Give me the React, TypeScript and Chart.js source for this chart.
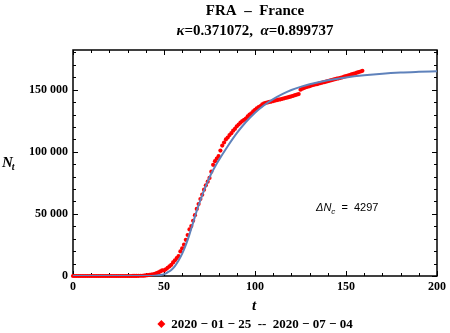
import React, { useEffect, useRef } from "react";
import { Chart, registerables } from "chart.js";

Chart.register(...registerables);

const SERIF = '"Liberation Serif", "Times New Roman", serif';
const SANS = '"Liberation Sans", Arial, sans-serif';

// Observed cumulative cases, one per day starting 2020-01-25 (t = 0)
const observedCases: number[] = [
  3, 3, 3, 3, 4, 5, 5, 6, 6, 6, 6, 6, 6,
  11, 11, 11, 11, 12, 12, 12, 12, 12, 12, 12, 12, 12, 12, 12, 12, 12, 12,
  14, 18, 38, 57, 100, 130, 191, 212, 285, 423, 653, 949, 1126, 1412, 1784, 2281, 2876, 3661, 4469,
  4500, 5400, 6600, 7700, 9000, 10900, 12600, 14400, 16000, 19800,
  22300, 25200, 29100, 33000, 37500, 40200, 44500, 49000, 54000, 58000,
  62000, 65500, 69500, 73000, 76000, 79000, 84000, 89500, 92500, 94500,
  96500, 101000, 105000, 107500, 110000, 111500, 113500, 115000, 117000, 118500,
  120500, 122000, 123500, 124800, 125800, 126800, 128500, 130000, 131000, 132500,
  133800, 135000, 136000, 136800, 138300, 139000, 139500, 139800, 140200, 140500,
  140900, 141300, 141600, 142000, 142300, 142700, 143100, 143500, 143800, 144200,
  144700, 145100, 145600, 146100, 146500, 150000, 150800, 151400, 152000, 152500,
  152900, 153400, 153800, 154200, 154500, 155000, 155400, 155800, 156100, 156500,
  156900, 157300, 157700, 158100, 158500, 158900, 159200, 159600, 160000, 160500,
  160900, 161300, 161800, 162300, 162700, 163200, 163700, 164200, 164700, 165200,
];

// Fitted model curve
const fitT: number[] = [0, 10, 20, 30, 40, 45, 48, 50, 52, 54, 56, 58, 60, 62, 64, 66, 68, 70, 72, 74, 76, 78, 80, 85, 90, 95, 100, 105, 110, 115, 120, 125, 130, 140, 150, 160, 170, 180, 190, 200];
const fitN: number[] = [0, 0, 0, 10, 80, 300, 800, 1500, 3000, 4900, 8000, 12500, 18000, 25000, 33500, 43000, 52500, 61000, 69000, 76000, 82500, 88000, 93000, 104500, 115000, 124000, 131500, 137500, 142500, 146500, 149800, 152300, 154400, 157600, 159900, 161600, 162900, 163800, 164400, 164900];

const xTicks: number[] = [0, 50, 100, 150, 200];
const xTickLabels: string[] = ["0", "50", "100", "150", "200"];
const yTicks: number[] = [0, 50000, 100000, 150000];
const yTickLabels: string[] = ["0", "50 000", "100 000", "150 000"];

const titleLine1 = "FRA  \u2013  France";
const kappaText = "0.371072";
const alphaText = "0.899737";
const legendText = "2020 \u2212 01 \u2212 25  --  2020 \u2212 07 \u2212 04";
const deltaNcValue = "4297";

const X_MAX = 200;
const Y_MAX = 182000;

const framePlugin = {
  id: "frameTicks",
  beforeDatasetsDraw(chart: any) {
    const { ctx, chartArea: a, scales } = chart;
    const sx = scales.x;
    const sy = scales.y;
    ctx.save();
    ctx.strokeStyle = "#000";
    ctx.lineWidth = 1.5;
    ctx.strokeRect(a.left, a.top, a.right - a.left, a.bottom - a.top);
    ctx.lineWidth = 1;
    for (let v = 0; v <= X_MAX; v += 10) {
      const len = xTicks.includes(v) ? 5 : 3;
      const px = Math.round(sx.getPixelForValue(v)) + 0.5;
      ctx.beginPath();
      ctx.moveTo(px, a.bottom);
      ctx.lineTo(px, a.bottom - len);
      ctx.moveTo(px, a.top);
      ctx.lineTo(px, a.top + len);
      ctx.stroke();
    }
    for (let v = 0; v <= Y_MAX; v += 10000) {
      const len = yTicks.includes(v) ? 5 : 3;
      const py = Math.round(sy.getPixelForValue(v)) + 0.5;
      ctx.beginPath();
      ctx.moveTo(a.left, py);
      ctx.lineTo(a.left + len, py);
      ctx.moveTo(a.right, py);
      ctx.lineTo(a.right - len, py);
      ctx.stroke();
    }
    ctx.restore();
  },
};

const textPlugin = {
  id: "texts",
  afterDraw(chart: any) {
    const { ctx, chartArea: a } = chart;
    const cx = (a.left + a.right) / 2;
    ctx.save();
    ctx.fillStyle = "#000";
    // Title line 1
    ctx.font = `bold 15px ${SERIF}`;
    ctx.textAlign = "center";
    ctx.textBaseline = "alphabetic";
    ctx.fillText(titleLine1, cx, 15);
    // Title line 2 with italic greek letters
    const parts = [
      { t: "\u03BA", it: true },
      { t: "=" + kappaText + ",  ", it: false },
      { t: "\u03B1", it: true },
      { t: "=" + alphaText, it: false },
    ];
    let total = 0;
    parts.forEach((p) => {
      ctx.font = `${p.it ? "italic " : ""}bold 15px ${SERIF}`;
      total += ctx.measureText(p.t).width;
    });
    let x = cx - total / 2;
    ctx.textAlign = "left";
    parts.forEach((p) => {
      ctx.font = `${p.it ? "italic " : ""}bold 15px ${SERIF}`;
      ctx.fillText(p.t, x, 35);
      x += ctx.measureText(p.t).width;
    });
    // Y axis title N_t
    ctx.font = `italic bold 15px ${SERIF}`;
    ctx.fillText("N", 2, 167);
    const nw = ctx.measureText("N").width;
    ctx.font = `italic bold 10px ${SERIF}`;
    ctx.fillText("t", 2 + nw - 1, 170);
    // X axis title t
    ctx.font = `italic bold 15px ${SERIF}`;
    ctx.textAlign = "center";
    ctx.fillText("t", cx - 1, 310);
    // Legend
    ctx.font = `bold 13px ${SERIF}`;
    ctx.textAlign = "left";
    const lw = ctx.measureText(legendText).width;
    const lx = cx - (lw + 14) / 2;
    ctx.fillStyle = "#ff0000";
    ctx.beginPath();
    const dcx = lx + 4;
    const dcy = 324;
    ctx.moveTo(dcx, dcy - 4);
    ctx.lineTo(dcx + 4, dcy);
    ctx.lineTo(dcx, dcy + 4);
    ctx.lineTo(dcx - 4, dcy);
    ctx.closePath();
    ctx.fill();
    ctx.fillStyle = "#000";
    ctx.fillText(legendText, lx + 14, 328);
    // Annotation
    let ax = 316;
    const ay = 211;
    ctx.font = `italic 11px ${SANS}`;
    ctx.fillText("\u0394N", ax, ay);
    ax += ctx.measureText("\u0394N").width;
    ctx.font = `italic 8px ${SANS}`;
    ctx.fillText("c", ax, ay + 3);
    ax += ctx.measureText("c").width;
    ctx.font = `11px ${SANS}`;
    ctx.fillText("  =  " + deltaNcValue, ax, ay);
    ctx.restore();
  },
};

export default function App() {
  const ref = useRef<HTMLCanvasElement | null>(null);
  useEffect(() => {
    if (!ref.current) return;
    const chart = new Chart(ref.current, {
      type: "scatter",
      data: {
        datasets: [
          {
            label: "fit",
            data: fitT.map((t, i) => ({ x: t, y: fitN[i] })),
            showLine: true,
            borderColor: "#5f82bb",
            borderWidth: 2,
            pointRadius: 0,
            cubicInterpolationMode: "monotone",
            order: 0,
          } as any,
          {
            label: legendText,
            data: observedCases.map((v, i) => ({ x: i, y: v })),
            showLine: false,
            pointRadius: 2.1,
            pointStyle: "circle",
            backgroundColor: "#ff0000",
            borderWidth: 0,
            order: 1,
            clip: false,
          } as any,
        ],
      },
      options: {
        responsive: false,
        animation: false,
        devicePixelRatio: 1,
        layout: { padding: { left: 0, right: 10, top: 50, bottom: 0 } },
        plugins: {
          legend: { display: false },
          title: { display: false },
          tooltip: { enabled: false },
        },
        scales: {
          x: {
            type: "linear",
            min: 0,
            max: X_MAX,
            grid: { display: false, drawTicks: false },
            border: { display: false },
            afterBuildTicks: (s: any) => {
              s.ticks = xTicks.map((v) => ({ value: v }));
            },
            afterFit: (s: any) => {
              s.height = 57;
            },
            ticks: {
              autoSkip: false,
              maxRotation: 0,
              padding: 4,
              color: "#000",
              font: { family: SERIF, weight: "bold", size: 12 },
              callback: (_v: any, i: number) => xTickLabels[i],
            },
          },
          y: {
            type: "linear",
            min: 0,
            max: Y_MAX,
            grid: { display: false, drawTicks: false },
            border: { display: false },
            afterBuildTicks: (s: any) => {
              s.ticks = yTicks.map((v) => ({ value: v }));
            },
            afterFit: (s: any) => {
              s.width = 73;
            },
            ticks: {
              autoSkip: false,
              padding: 5,
              color: "#000",
              font: { family: SERIF, weight: "bold", size: 12 },
              callback: (_v: any, i: number) => yTickLabels[i],
            },
          },
        },
      } as any,
      plugins: [framePlugin, textPlugin],
    });
    return () => chart.destroy();
  }, []);
  return (
    <div style={{ position: "fixed", left: 0, top: 0, width: 450, height: 333, background: "#fff" }}>
      <canvas ref={ref} width={450} height={333} style={{ width: 450, height: 333, display: "block" }} />
    </div>
  );
}
